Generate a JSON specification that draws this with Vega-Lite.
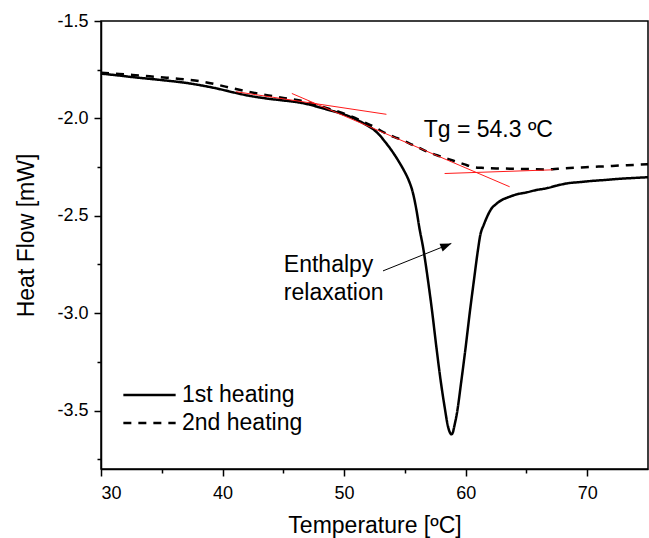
{
  "$schema": "https://vega.github.io/schema/vega-lite/v6.json",
  "width": 547,
  "height": 448,
  "autosize": {"type": "none"},
  "padding": {"left": 101, "top": 21, "right": 1, "bottom": 69},
  "background": "white",
  "config": {
    "font": "Liberation Sans",
    "view": {"stroke": "black", "strokeWidth": 1.5},
    "axis": {
      "grid": false,
      "domainColor": "black",
      "domainWidth": 1.5,
      "tickColor": "black",
      "tickWidth": 1.5,
      "labelFont": "Liberation Sans",
      "labelFontSize": 18,
      "labelColor": "black",
      "titleFont": "Liberation Sans",
      "titleFontSize": 23,
      "titleFontWeight": "normal",
      "titleColor": "black"
    },
    "legend": {
      "labelFont": "Liberation Sans",
      "labelFontSize": 23,
      "labelColor": "black"
    }
  },
  "datasets": {
    "curves": [
      {"series": "1st heating", "T": 30.0, "HF": -1.770},
      {"series": "1st heating", "T": 31.5, "HF": -1.780},
      {"series": "1st heating", "T": 32.6, "HF": -1.788},
      {"series": "1st heating", "T": 34.0, "HF": -1.797},
      {"series": "1st heating", "T": 35.4, "HF": -1.806},
      {"series": "1st heating", "T": 36.8, "HF": -1.816},
      {"series": "1st heating", "T": 38.1, "HF": -1.829},
      {"series": "1st heating", "T": 39.5, "HF": -1.846},
      {"series": "1st heating", "T": 40.85, "HF": -1.866},
      {"series": "1st heating", "T": 42.2, "HF": -1.884},
      {"series": "1st heating", "T": 43.65, "HF": -1.898},
      {"series": "1st heating", "T": 45.0, "HF": -1.908},
      {"series": "1st heating", "T": 46.36, "HF": -1.919},
      {"series": "1st heating", "T": 47.2, "HF": -1.930},
      {"series": "1st heating", "T": 48.0, "HF": -1.944},
      {"series": "1st heating", "T": 48.8, "HF": -1.958},
      {"series": "1st heating", "T": 49.65, "HF": -1.973},
      {"series": "1st heating", "T": 50.5, "HF": -1.992},
      {"series": "1st heating", "T": 51.29, "HF": -2.015},
      {"series": "1st heating", "T": 51.9, "HF": -2.036},
      {"series": "1st heating", "T": 52.52, "HF": -2.062},
      {"series": "1st heating", "T": 52.95, "HF": -2.088},
      {"series": "1st heating", "T": 53.34, "HF": -2.118},
      {"series": "1st heating", "T": 53.75, "HF": -2.151},
      {"series": "1st heating", "T": 54.16, "HF": -2.188},
      {"series": "1st heating", "T": 54.6, "HF": -2.232},
      {"series": "1st heating", "T": 54.98, "HF": -2.274},
      {"series": "1st heating", "T": 55.31, "HF": -2.317},
      {"series": "1st heating", "T": 55.65, "HF": -2.380},
      {"series": "1st heating", "T": 55.95, "HF": -2.470},
      {"series": "1st heating", "T": 56.2, "HF": -2.565},
      {"series": "1st heating", "T": 56.49, "HF": -2.660},
      {"series": "1st heating", "T": 56.9, "HF": -2.831},
      {"series": "1st heating", "T": 57.26, "HF": -3.001},
      {"series": "1st heating", "T": 57.59, "HF": -3.174},
      {"series": "1st heating", "T": 57.94, "HF": -3.345},
      {"series": "1st heating", "T": 58.27, "HF": -3.482},
      {"series": "1st heating", "T": 58.54, "HF": -3.580},
      {"series": "1st heating", "T": 58.7, "HF": -3.612},
      {"series": "1st heating", "T": 58.82, "HF": -3.622},
      {"series": "1st heating", "T": 58.95, "HF": -3.612},
      {"series": "1st heating", "T": 59.05, "HF": -3.585},
      {"series": "1st heating", "T": 59.28, "HF": -3.514},
      {"series": "1st heating", "T": 59.65, "HF": -3.345},
      {"series": "1st heating", "T": 60.0, "HF": -3.174},
      {"series": "1st heating", "T": 60.33, "HF": -3.001},
      {"series": "1st heating", "T": 60.68, "HF": -2.831},
      {"series": "1st heating", "T": 61.0, "HF": -2.680},
      {"series": "1st heating", "T": 61.2, "HF": -2.600},
      {"series": "1st heating", "T": 61.5, "HF": -2.545},
      {"series": "1st heating", "T": 61.8, "HF": -2.500},
      {"series": "1st heating", "T": 62.1, "HF": -2.465},
      {"series": "1st heating", "T": 62.5, "HF": -2.440},
      {"series": "1st heating", "T": 63.0, "HF": -2.418},
      {"series": "1st heating", "T": 63.5, "HF": -2.405},
      {"series": "1st heating", "T": 64.2, "HF": -2.390},
      {"series": "1st heating", "T": 65.0, "HF": -2.380},
      {"series": "1st heating", "T": 65.8, "HF": -2.368},
      {"series": "1st heating", "T": 66.7, "HF": -2.358},
      {"series": "1st heating", "T": 67.5, "HF": -2.345},
      {"series": "1st heating", "T": 68.3, "HF": -2.334},
      {"series": "1st heating", "T": 69.4, "HF": -2.327},
      {"series": "1st heating", "T": 70.4, "HF": -2.321},
      {"series": "1st heating", "T": 71.5, "HF": -2.316},
      {"series": "1st heating", "T": 72.7, "HF": -2.310},
      {"series": "1st heating", "T": 73.8, "HF": -2.306},
      {"series": "1st heating", "T": 75.0, "HF": -2.302},
      {"series": "2nd heating", "T": 30.0, "HF": -1.766},
      {"series": "2nd heating", "T": 31.5, "HF": -1.772},
      {"series": "2nd heating", "T": 32.6, "HF": -1.777},
      {"series": "2nd heating", "T": 34.0, "HF": -1.784},
      {"series": "2nd heating", "T": 35.4, "HF": -1.791},
      {"series": "2nd heating", "T": 36.8, "HF": -1.799},
      {"series": "2nd heating", "T": 38.1, "HF": -1.809},
      {"series": "2nd heating", "T": 39.5, "HF": -1.826},
      {"series": "2nd heating", "T": 40.85, "HF": -1.846},
      {"series": "2nd heating", "T": 42.2, "HF": -1.864},
      {"series": "2nd heating", "T": 43.65, "HF": -1.881},
      {"series": "2nd heating", "T": 45.0, "HF": -1.895},
      {"series": "2nd heating", "T": 46.36, "HF": -1.908},
      {"series": "2nd heating", "T": 47.2, "HF": -1.921},
      {"series": "2nd heating", "T": 48.0, "HF": -1.937},
      {"series": "2nd heating", "T": 48.8, "HF": -1.952},
      {"series": "2nd heating", "T": 49.65, "HF": -1.968},
      {"series": "2nd heating", "T": 50.5, "HF": -1.988},
      {"series": "2nd heating", "T": 51.29, "HF": -2.009},
      {"series": "2nd heating", "T": 51.9, "HF": -2.027},
      {"series": "2nd heating", "T": 52.52, "HF": -2.045},
      {"series": "2nd heating", "T": 53.1, "HF": -2.066},
      {"series": "2nd heating", "T": 53.75, "HF": -2.086},
      {"series": "2nd heating", "T": 54.4, "HF": -2.102},
      {"series": "2nd heating", "T": 54.98, "HF": -2.117},
      {"series": "2nd heating", "T": 55.6, "HF": -2.135},
      {"series": "2nd heating", "T": 56.22, "HF": -2.153},
      {"series": "2nd heating", "T": 57.0, "HF": -2.175},
      {"series": "2nd heating", "T": 57.86, "HF": -2.194},
      {"series": "2nd heating", "T": 58.6, "HF": -2.209},
      {"series": "2nd heating", "T": 59.26, "HF": -2.223},
      {"series": "2nd heating", "T": 59.9, "HF": -2.236},
      {"series": "2nd heating", "T": 60.57, "HF": -2.249},
      {"series": "2nd heating", "T": 61.3, "HF": -2.254},
      {"series": "2nd heating", "T": 61.97, "HF": -2.256},
      {"series": "2nd heating", "T": 62.8, "HF": -2.257},
      {"series": "2nd heating", "T": 63.62, "HF": -2.258},
      {"series": "2nd heating", "T": 65.0, "HF": -2.260},
      {"series": "2nd heating", "T": 66.66, "HF": -2.262},
      {"series": "2nd heating", "T": 67.6, "HF": -2.259},
      {"series": "2nd heating", "T": 68.55, "HF": -2.255},
      {"series": "2nd heating", "T": 69.5, "HF": -2.252},
      {"series": "2nd heating", "T": 70.44, "HF": -2.249},
      {"series": "2nd heating", "T": 71.5, "HF": -2.246},
      {"series": "2nd heating", "T": 72.66, "HF": -2.242},
      {"series": "2nd heating", "T": 73.8, "HF": -2.239},
      {"series": "2nd heating", "T": 75.0, "HF": -2.235}
    ],
    "tangents": [
      {"seg": "glass", "T": 41.10, "HF": -1.863},
      {"seg": "glass", "T": 53.48, "HF": -1.979},
      {"seg": "transition", "T": 45.70, "HF": -1.872},
      {"seg": "transition", "T": 63.62, "HF": -2.351},
      {"seg": "rubber", "T": 58.27, "HF": -2.283},
      {"seg": "rubber", "T": 67.17, "HF": -2.264}
    ],
    "labels": [
      {"label": "Tg = 54.3 ºC", "T": 56.55, "HF": -2.098},
      {"label": "Enthalpy", "T": 45.04, "HF": -2.791},
      {"label": "relaxation", "T": 45.04, "HF": -2.934}
    ],
    "arrow": [
      {"T": 53.2, "HF": -2.783, "T2": 58.82, "HF2": -2.642}
    ]
  },
  "resolve": {"axis": {"x": "independent", "y": "independent"}},
  "layer": [
    {
      "data": {"name": "curves"},
      "mark": {"type": "line", "color": "black", "strokeWidth": 2.5, "interpolate": "monotone"},
      "encoding": {
        "x": {
          "field": "T", "type": "quantitative",
          "scale": {"domain": [30, 75], "nice": false, "zero": false},
          "axis": {
            "orient": "bottom",
            "title": "Temperature [ºC]",
            "values": [30, 40, 50, 60, 70],
            "tickSize": 7,
            "labelPadding": 8,
            "titlePadding": 12
          }
        },
        "y": {
          "field": "HF", "type": "quantitative",
          "scale": {"domain": [-3.8, -1.5], "nice": false, "zero": false},
          "axis": {
            "orient": "left",
            "title": "Heat Flow [mW]",
            "values": [-3.5, -3.0, -2.5, -2.0, -1.5],
            "format": ".1f",
            "labelExpr": "replace(datum.label, '\u2212', '-')",
            "tickSize": 7,
            "labelPadding": 6,
            "titlePadding": 18,
            "titleY": 214
          }
        },
        "strokeDash": {
          "field": "series", "type": "nominal",
          "scale": {"domain": ["1st heating", "2nd heating"], "range": [[1, 0], [8, 7]]},
          "legend": {
            "title": null,
            "orient": "none",
            "legendX": 21,
            "legendY": 360,
            "padding": 0,
            "clipHeight": 28,
            "rowPadding": 0,
            "symbolType": "stroke",
            "symbolSize": 2735,
            "symbolStrokeWidth": 2.5,
            "symbolStrokeColor": "black",
            "labelOffset": 5
          }
        }
      }
    },
    {
      "data": {"name": "tangents"},
      "mark": {"type": "line", "color": "#ff1a1a", "strokeWidth": 1},
      "encoding": {
        "x": {
          "field": "T", "type": "quantitative",
          "scale": {"domain": [30, 75], "nice": false, "zero": false},
          "axis": {
            "orient": "bottom", "title": null, "labels": false, "domain": false,
            "values": [35, 45, 55, 65], "tickSize": 4
          }
        },
        "y": {
          "field": "HF", "type": "quantitative",
          "scale": {"domain": [-3.8, -1.5], "nice": false, "zero": false},
          "axis": {
            "orient": "left", "title": null, "labels": false, "domain": false,
            "values": [-3.75, -3.25, -2.75, -2.25, -1.75], "tickSize": 4
          }
        },
        "detail": {"field": "seg", "type": "nominal"}
      }
    },
    {
      "data": {"name": "labels"},
      "mark": {"type": "text", "align": "left", "baseline": "alphabetic", "fontSize": 23, "font": "Liberation Sans", "color": "black"},
      "encoding": {
        "x": {"field": "T", "type": "quantitative", "axis": null},
        "y": {"field": "HF", "type": "quantitative", "axis": null},
        "text": {"field": "label"}
      }
    },
    {
      "data": {"name": "arrow"},
      "mark": {"type": "rule", "color": "black", "strokeWidth": 1},
      "encoding": {
        "x": {"field": "T", "type": "quantitative", "axis": null},
        "y": {"field": "HF", "type": "quantitative", "axis": null},
        "x2": {"field": "T2"},
        "y2": {"field": "HF2"}
      }
    },
    {
      "data": {"name": "arrow"},
      "mark": {"type": "point", "shape": "M0,0L-1,-0.38L-1,0.38Z", "filled": true, "color": "black", "opacity": 1, "size": 484, "angle": -21.8, "strokeWidth": 0},
      "encoding": {
        "x": {"field": "T2", "type": "quantitative", "axis": null},
        "y": {"field": "HF2", "type": "quantitative", "axis": null}
      }
    }
  ]
}
